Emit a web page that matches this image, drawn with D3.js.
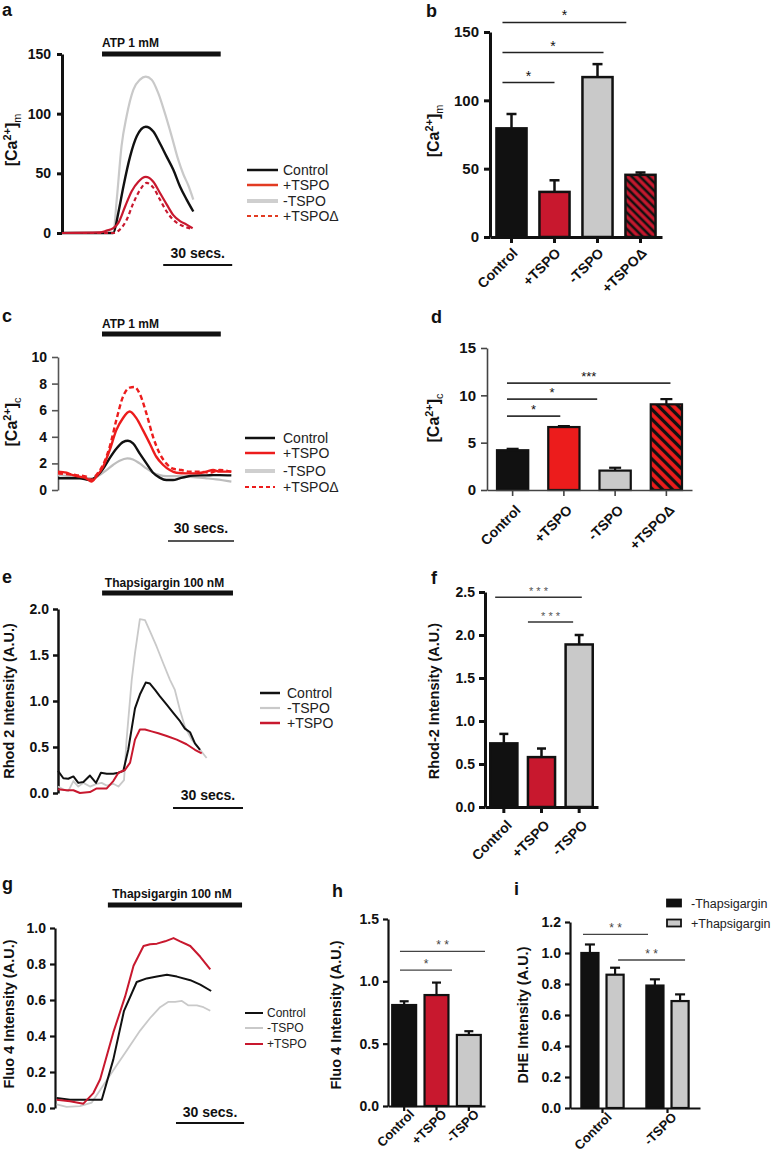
<!DOCTYPE html>
<html><head><meta charset="utf-8">
<script src="https://cdn.jsdelivr.net/npm/d3@7"></script>
<style>
html,body{margin:0;padding:0;background:#fff;}
svg{display:block;}
</style></head>
<body>
<svg id="fig" width="771" height="1155" xmlns="http://www.w3.org/2000/svg"></svg>
<script>
// ================= DATA =================
// Panel a: mitochondrial Ca2+ traces, [time (s), value]
const aControl   = [[0,0],[22.3,0],[24.5,17],[26.7,39],[29.6,64],[32.5,81],[36.4,89],[39.7,85],[42.6,75],[45.5,64],[48.4,53],[51.3,39],[54.2,28],[57.1,18]];
const aMinusTSPO = [[0,0],[22.3,0],[23.8,28],[25.9,73],[28.1,98],[31.0,120],[33.9,128.5],[36.4,131],[39.0,128.5],[41.9,117],[44.8,100],[47.7,81],[50.6,61],[52.8,49],[54.9,40],[57.1,28]];
const aPlusTSPO  = [[0,0],[16.5,0.5],[19.4,2],[22.3,4],[24.5,8.5],[27.4,22],[30.3,35],[33.2,43],[36.4,47],[39.7,43],[42.6,33.5],[45.5,24],[48.4,15],[51.3,10],[54.2,7],[56.8,4]];
const aPlusTSPOd = [[0,0],[22.3,0],[25.2,3],[28.1,11],[31.0,25],[33.9,36],[36.8,42],[39.7,38],[42.6,28],[45.5,18],[48.4,11],[51.3,7],[54.2,4.7],[56.8,3.4]];
const aTicks = [0,50,100,150];
const aStimulus = [17.4,69];
const aScaleBar = [44,74];
const aLegend = ["Control","+TSPO","-TSPO","+TSPOΔ"];

// Panel b
const bCategories = ["Control","+TSPO","-TSPO","+TSPOΔ"];
const bMeans  = [79.5,33,117,45.5];
const bErrors = [10.5,8.5,9.5,1.7];
const bTicks  = [0,50,100,150];
const bSig    = [[-0.21,1.0,113,"*"],[-0.21,2.14,135,"*"],[-0.21,2.67,157,"*"]];

// Panel c: cytosolic Ca2+ traces
const cControl   = [[0,0.88],[5.3,0.88],[9.8,0.88],[14.4,0.75],[17.4,1.0],[20.5,1.6],[23.5,2.4],[26.5,3.1],[29.5,3.6],[31.8,3.7],[34.1,3.5],[37.1,2.75],[40.2,2.0],[43.2,1.3],[46.2,0.93],[49.2,0.75],[52.3,0.75],[55.3,0.88],[58.3,1.0],[61.4,1.08],[64.4,1.1],[67.4,1.1],[70.5,1.12],[73.5,1.12],[78.8,1.1]];
const cPlusTSPO  = [[0,1.38],[3.8,1.3],[6.8,1.12],[9.8,1.0],[12.9,0.88],[15.2,0.63],[17.4,1.0],[20.5,1.75],[23.5,3.0],[26.5,4.5],[29.5,5.4],[32.6,5.9],[35.6,5.4],[38.6,4.5],[41.7,3.5],[44.7,2.5],[47.7,1.9],[50.8,1.5],[53.8,1.3],[58.3,1.25],[62.9,1.25],[67.4,1.38],[70.5,1.5],[73.5,1.38],[78.8,1.38]];
const cPlusTSPOd = [[0,1.25],[3.8,1.2],[8.3,1.12],[12.9,1.0],[15.2,0.75],[17.4,1.12],[20.5,1.9],[23.5,3.25],[26.5,5.25],[29.5,7.0],[32.6,7.7],[34.8,7.75],[37.1,7.25],[40.2,5.75],[43.2,4.0],[46.2,2.75],[49.2,2.0],[52.3,1.6],[56.1,1.5],[59.8,1.38],[64.4,1.38],[68.9,1.3],[73.5,1.5],[78.8,1.38]];
const cMinusTSPO = [[0,1.12],[5.3,1.05],[11.4,0.95],[15.9,0.88],[18.9,1.12],[22,1.5],[25,1.88],[28,2.2],[31.5,2.38],[34.1,2.3],[37.1,2.0],[40.2,1.62],[43.2,1.3],[46.2,1.12],[49.2,1.05],[53.8,1.05],[58.3,1.0],[62.9,0.95],[67.4,0.88],[72,0.8],[78.8,0.63]];
const cTicks = [0,2,4,6,8,10];
const cStimulus = [20,74];
const cScaleBar = [50,80];
const cLegend = ["Control","+TSPO","-TSPO","+TSPOΔ"];

// Panel d
const dCategories = ["Control","+TSPO","-TSPO","+TSPOΔ"];
const dMeans  = [4.2,6.65,2.05,9.05];
const dErrors = [0.15,0.1,0.3,0.55];
const dTicks  = [0,5,10,15];
const dSig    = [[-0.11,0.93,7.8,"*"],[-0.11,1.65,9.6,"*"],[-0.11,3.08,11.3,"***"]];

// Panel e: Rhod 2 traces
const eControl   = [[0,0.24],[2.3,0.16],[4.4,0.155],[6.6,0.18],[8.7,0.11],[10.9,0.12],[13.7,0.19],[16.3,0.11],[18.4,0.22],[20.9,0.21],[23.7,0.21],[25.9,0.22],[28,0.24],[30.1,0.47],[33,0.92],[35.1,1.07],[37.6,1.2],[39.4,1.19],[41.6,1.12],[43.7,1.05],[46.6,0.96],[49.4,0.87],[52.3,0.78],[54.4,0.7],[56.6,0.66],[58.7,0.54],[60.9,0.47]];
const eMinusTSPO = [[0,0.07],[2.3,0.04],[4.4,0.02],[6.6,0.13],[8.7,0.07],[10.9,0.11],[13.7,0.07],[16.6,0.1],[18.7,0.11],[20.9,0.08],[23.7,0.1],[25.9,0.07],[28.3,0.14],[29.4,0.58],[31.6,1.23],[33,1.52],[35.1,1.89],[37.3,1.88],[39.4,1.76],[42.3,1.59],[45.1,1.41],[48,1.23],[50.1,1.12],[52.3,0.9],[54.4,0.72],[57.3,0.58],[60.9,0.47],[63.7,0.38]];
const ePlusTSPO  = [[0,0.04],[3.7,0.03],[6.6,0.03],[9.4,0.0],[13.7,0.01],[16.6,0.05],[20.9,0.05],[23.7,0.13],[25.9,0.22],[28.7,0.25],[30.9,0.33],[33,0.58],[35.1,0.69],[37.3,0.69],[40.1,0.67],[43,0.65],[46.6,0.62],[50.9,0.58],[55.1,0.53],[58.7,0.47],[61.6,0.43]];
const eTicks = [0,0.5,1.0,1.5,2.0];
const eStimulus = [18.9,75];
const eScaleBar = [49.3,79.3];
const eLegend = ["Control","-TSPO","+TSPO"];

// Panel f
const fCategories = ["Control","+TSPO","-TSPO"];
const fMeans  = [0.74,0.58,1.89];
const fErrors = [0.11,0.10,0.11];
const fTicks  = [0,0.5,1.0,1.5,2.0,2.5];
const fSig    = [[-0.23,2.07,2.44,"* * *"],[0.64,1.84,2.15,"* * *"]];

// Panel g: Fluo 4 traces
const gControl   = [[0.7,0.056],[6.6,0.046],[13.2,0.046],[20.6,0.046],[25.7,0.27],[30.4,0.54],[36,0.70],[40.4,0.72],[44.9,0.73],[49.3,0.74],[53.7,0.73],[59.6,0.71],[64,0.685],[68.8,0.65]];
const gPlusTSPO  = [[0.7,0.046],[6.6,0.037],[12.5,0.024],[16.9,0.083],[19.9,0.16],[25.7,0.42],[30.9,0.62],[34.6,0.79],[39,0.90],[41.9,0.91],[44.9,0.913],[48.5,0.926],[52.2,0.944],[55.1,0.926],[59.6,0.90],[64,0.84],[68.4,0.77]];
const gMinusTSPO = [[0.7,0.02],[5.1,0.006],[11,0.01],[16.2,0.03],[19.9,0.10],[25.7,0.21],[31.6,0.32],[37.5,0.43],[41.9,0.50],[46.3,0.56],[50,0.59],[52.9,0.59],[55.9,0.595],[58.8,0.57],[62.5,0.57],[65.4,0.56],[68.4,0.54]];
const gTicks = [0,0.2,0.4,0.6,0.8,1.0];
const gStimulus = [23.3,82.4];
const gScaleBar = [53.3,83.3];
const gLegend = ["Control","-TSPO","+TSPO"];

// Panel h
const hCategories = ["Control","+TSPO","-TSPO"];
const hMeans  = [0.81,0.89,0.57];
const hErrors = [0.03,0.10,0.03];
const hTicks  = [0,0.5,1.0,1.5];
const hSig    = [[-0.13,1.48,1.09,"*"],[-0.13,2.5,1.24,"* *"]];

// Panel i
const iGroups = ["Control","-TSPO"];
const iSeries = ["-Thapsigargin","+Thapsigargin"];
const iMinusThaps = [1.0,0.79];
const iMinusErr   = [0.055,0.04];
const iPlusThaps  = [0.86,0.69];
const iPlusErr    = [0.045,0.043];
const iTicks = [0,0.2,0.4,0.6,0.8,1.0,1.2];
const iSig   = [[-0.3,0.70,1.12,"* *"],[0.24,1.27,0.955,"* *"]];

// ================= DRAWING =================
const FONT = "'Liberation Sans', Arial, Helvetica, sans-serif";
const BLACK = "#111", GRAY = "#c9c9c9", CRIMSON = "#c8182e", BRIGHT = "#ec1c1c", ORANGE = "#e23b22";
const svg = d3.select("#fig");

// hatch patterns
const defs = svg.append("defs");
function hatch(id, bg, size, w) {
  const p = defs.append("pattern").attr("id", id).attr("patternUnits","userSpaceOnUse")
    .attr("width", size).attr("height", size).attr("patternTransform","rotate(-45)");
  p.append("rect").attr("width", size).attr("height", size).attr("fill", bg);
  p.append("line").attr("x1", size/2).attr("x2", size/2).attr("y1", 0).attr("y2", size)
    .attr("stroke", "#111").attr("stroke-width", w);
}
hatch("hatchB", CRIMSON, 5.8, 2.6);
hatch("hatchD", BRIGHT, 7, 3.2);

function text(g, x, y, s, o = {}) {
  return g.append("text").attr("x", x).attr("y", y).text(s)
    .attr("font-family", FONT).attr("font-size", o.fs || 14)
    .attr("font-weight", o.bold === false ? "normal" : "bold")
    .attr("fill", o.fill || BLACK).attr("text-anchor", o.anchor || "start");
}

function styleYAxis(ax, c) {
  ax.select(".domain").attr("stroke", c.axisColor || BLACK).attr("stroke-width", c.axisW);
  ax.selectAll(".tick line").attr("stroke", c.axisColor || BLACK).attr("stroke-width", c.axisW);
  ax.selectAll(".tick text").attr("font-family", FONT).attr("font-size", c.tickFs)
    .attr("font-weight", "bold").attr("fill", BLACK).attr("letter-spacing", c.ls || 0);
}

function yLabel(g, x, y, parts, fs) {
  const t = g.append("text").attr("transform", `translate(${x},${y}) rotate(-90)`)
    .attr("text-anchor", "middle").attr("font-family", FONT).attr("font-weight", "bold")
    .attr("font-size", fs).attr("fill", BLACK);
  if (typeof parts === "string") { t.text(parts); return; }
  t.append("tspan").text("[Ca");
  t.append("tspan").attr("dy", -6).attr("font-size", fs * 0.68).text("2+");
  t.append("tspan").attr("dy", 6).text("]");
  t.append("tspan").attr("dy", 4).attr("font-size", fs * 0.68).attr("font-weight", "normal").text(parts.sub);
}

function linePanel(c) {
  const g = svg.append("g");
  const x = d3.scaleLinear().domain([0, 100]).range([c.x0, c.x0 + c.pps * 100]);
  const y = d3.scaleLinear().domain(c.yDomain).range(c.yRange);
  const ax = g.append("g").attr("transform", `translate(${c.x0},0)`)
    .call(d3.axisLeft(y).tickValues(c.ticks).tickFormat(c.fmt).tickSize(c.tickSize).tickPadding(c.tickPad).tickSizeOuter(0));
  styleYAxis(ax, c);
  const line = d3.line().x(d => x(d[0])).y(d => y(d[1])).curve(c.curve);
  c.series.forEach(s => {
    g.append("path").datum(s.data).attr("fill", "none").attr("stroke", s.color)
      .attr("stroke-width", s.w).attr("stroke-dasharray", s.dash || null)
      .attr("stroke-linejoin", "round").attr("d", line);
  });
  g.append("line").attr("x1", x(c.stim[0])).attr("x2", x(c.stim[1]))
    .attr("y1", c.stimY).attr("y2", c.stimY).attr("stroke", BLACK).attr("stroke-width", 5);
  const sx = c.stimAnchor === "start" ? x(c.stim[0]) : (x(c.stim[0]) + x(c.stim[1])) / 2 - 3;
  text(g, sx, c.stimTextY, c.stimLabel, { fs: 12, anchor: c.stimAnchor });
  g.append("line").attr("x1", x(c.scale[0])).attr("x2", x(c.scale[1]))
    .attr("y1", c.scaleY).attr("y2", c.scaleY).attr("stroke", c.scaleColor || BLACK).attr("stroke-width", 2);
  text(g, (x(c.scale[0]) + x(c.scale[1])) / 2, c.scaleTextY, "30 secs.", { fs: 14, anchor: "middle" });
  c.legend.labels.forEach((lab, i) => {
    const st = c.legend.styles[i], yy = c.legend.rows[i];
    g.append("line").attr("x1", c.legend.x1).attr("x2", c.legend.x2).attr("y1", yy).attr("y2", yy)
      .attr("stroke", st.color).attr("stroke-width", st.w).attr("stroke-dasharray", st.dash || null);
    text(g, c.legend.tx, yy + c.legend.fs * 0.36, lab, { fs: c.legend.fs, bold: false, fill: "#222" });
  });
  yLabel(g, c.ylx, c.yly, c.ylabel, c.ylFs);
  text(g, c.letter[0], c.letter[1], c.letter[2], { fs: 18 });
}

function barPanel(c) {
  const g = svg.append("g");
  const n = c.cats.length;
  const x = d3.scaleBand().domain(c.cats).range(c.xRange).paddingInner(c.pad).paddingOuter(c.pad / 2);
  const y = d3.scaleLinear().domain(c.yDomain).range(c.yRange);
  const bw = x.bandwidth();
  const idx = d3.scaleLinear().domain([0, n - 1]).range([x(c.cats[0]) + bw / 2, x(c.cats[n - 1]) + bw / 2]);
  c.cats.forEach((cat, i) => {
    const cx = x(cat) + bw / 2;
    g.append("line").attr("x1", cx).attr("x2", cx).attr("y1", y(c.means[i])).attr("y2", y(c.means[i] + c.errs[i]))
      .attr("stroke", BLACK).attr("stroke-width", c.errW);
    g.append("line").attr("x1", cx - c.capW / 2).attr("x2", cx + c.capW / 2)
      .attr("y1", y(c.means[i] + c.errs[i])).attr("y2", y(c.means[i] + c.errs[i]))
      .attr("stroke", BLACK).attr("stroke-width", c.errW);
  });
  g.selectAll(null).data(c.cats).enter().append("rect")
    .attr("x", d => x(d)).attr("width", bw)
    .attr("y", (d, i) => y(c.means[i])).attr("height", (d, i) => y(0) - y(c.means[i]))
    .attr("fill", (d, i) => c.fills[i]).attr("stroke", BLACK).attr("stroke-width", c.barStroke);
  const ay = g.append("g").attr("transform", `translate(${c.xRange[0]},0)`)
    .call(d3.axisLeft(y).tickValues(c.ticks).tickFormat(c.fmt).tickSize(c.tickSize).tickPadding(c.tickPad).tickSizeOuter(0));
  styleYAxis(ay, c);
  const axx = g.append("g").attr("transform", `translate(0,${y(0)})`)
    .call(d3.axisBottom(x).tickSize(c.tickSize).tickSizeOuter(0).tickFormat(""));
  axx.select(".domain").attr("stroke", c.axisColor || BLACK).attr("stroke-width", c.axisW);
  axx.selectAll(".tick line").attr("stroke", c.axisColor || BLACK).attr("stroke-width", c.axisW);
  c.cats.forEach(cat => {
    const cx = x(cat) + bw / 2;
    g.append("text").attr("transform", `translate(${cx + c.labDx},${y(0) + c.labDy}) rotate(-45)`)
      .attr("text-anchor", "end").attr("font-family", FONT).attr("font-weight", "bold")
      .attr("font-size", c.labFs).attr("fill", BLACK).text(cat);
  });
  c.sig.forEach(s => {
    const x1 = idx(s[0]), x2 = idx(s[1]), yy = y(s[2]);
    g.append("line").attr("x1", x1).attr("x2", x2).attr("y1", yy).attr("y2", yy)
      .attr("stroke", c.sigColor).attr("stroke-width", c.sigW);
    text(g, (x1 + x2) / 2, yy - 2, s[3], { fs: c.starFs, anchor: "middle", fill: c.starColor || BLACK, bold: false });
  });
  yLabel(g, c.ylx, c.yly, c.ylabel, c.ylFs);
  text(g, c.letter[0], c.letter[1], c.letter[2], { fs: 18 });
}

// ---- Panel a
linePanel({
  x0: 62, pps: 2.3, yDomain: [0, 150], yRange: [233, 54], ticks: aTicks, fmt: d3.format("d"),
  axisW: 3, tickSize: 5, tickPad: 6, tickFs: 14, curve: d3.curveMonotoneX,
  series: [
    { data: aMinusTSPO, color: GRAY, w: 2.2 },
    { data: aControl, color: BLACK, w: 2.4 },
    { data: aPlusTSPO, color: CRIMSON, w: 2.2 },
    { data: aPlusTSPOd, color: CRIMSON, w: 2.2, dash: "4,3" }
  ],
  stim: aStimulus, stimY: 54, stimTextY: 47, stimLabel: "ATP 1 mM", stimAnchor: "start",
  scale: aScaleBar, scaleY: 265, scaleTextY: 258,
  legend: { labels: aLegend, x1: 247, x2: 278, tx: 283, fs: 14, rows: [170, 185, 201, 216],
    styles: [{ color: BLACK, w: 2.5 }, { color: ORANGE, w: 2.5 }, { color: "#cfcfcf", w: 4 }, { color: ORANGE, w: 2, dash: "4,3" }] },
  ylx: 17, yly: 140, ylabel: { sub: "m" }, ylFs: 16, letter: [2, 16, "a"]
});

// ---- Panel b
barPanel({
  cats: bCategories, means: bMeans, errs: bErrors, fills: [BLACK, CRIMSON, GRAY, "url(#hatchB)"],
  xRange: [490, 662], pad: 0.3, yDomain: [0, 150], yRange: [237, 32], ticks: bTicks, fmt: d3.format("d"),
  axisW: 3, tickSize: 6, tickPad: 5, tickFs: 15, barStroke: 2.5, errW: 2.5, capW: 10,
  sig: bSig, sigColor: "#222", sigW: 1.5, starFs: 14,
  labDx: 7, labDy: 17, labFs: 14,
  ylx: 439, yly: 131, ylabel: { sub: "m" }, ylFs: 16, letter: [426, 17, "b"]
});

// ---- Panel c
linePanel({
  x0: 58, pps: 2.2, yDomain: [0, 10], yRange: [490, 357], ticks: cTicks, fmt: d3.format("d"),
  axisW: 1.6, axisColor: "#555", tickSize: 6, tickPad: 5, tickFs: 14, curve: d3.curveMonotoneX,
  series: [
    { data: cMinusTSPO, color: "#bdbdbd", w: 2.2 },
    { data: cControl, color: BLACK, w: 2.4 },
    { data: cPlusTSPO, color: BRIGHT, w: 2.4 },
    { data: cPlusTSPOd, color: BRIGHT, w: 2.4, dash: "5,3" }
  ],
  stim: cStimulus, stimY: 334, stimTextY: 328, stimLabel: "ATP 1 mM", stimAnchor: "start",
  scale: cScaleBar, scaleY: 541, scaleTextY: 533, scaleColor: "#555",
  legend: { labels: cLegend, x1: 245, x2: 275, tx: 283, fs: 14, rows: [438, 453, 471, 487],
    styles: [{ color: BLACK, w: 2.5 }, { color: BRIGHT, w: 2.5 }, { color: "#cfcfcf", w: 4 }, { color: BRIGHT, w: 2, dash: "4,3" }] },
  ylx: 17, yly: 422, ylabel: { sub: "c" }, ylFs: 16, letter: [2, 322, "c"]
});

// ---- Panel d
barPanel({
  cats: dCategories, means: dMeans, errs: dErrors, fills: [BLACK, BRIGHT, GRAY, "url(#hatchD)"],
  xRange: [487, 692], pad: 0.39, yDomain: [0, 15], yRange: [490, 348], ticks: dTicks, fmt: d3.format("d"),
  axisW: 1.6, axisColor: "#444", tickSize: 6, tickPad: 5, tickFs: 15, barStroke: 2.2, errW: 2.2, capW: 12,
  sig: dSig, sigColor: "#333", sigW: 1.8, starFs: 13,
  labDx: 9, labDy: 21, labFs: 14,
  ylx: 439, yly: 418, ylabel: { sub: "c" }, ylFs: 16, letter: [431, 323, "d"]
});

// ---- Panel e
linePanel({
  x0: 58, pps: 2.333, yDomain: [0, 2], yRange: [793, 609], ticks: eTicks, fmt: d3.format(".1f"),
  axisW: 2.5, tickSize: 5, tickPad: 4, tickFs: 14, curve: d3.curveLinear,
  series: [
    { data: eMinusTSPO, color: GRAY, w: 1.8 },
    { data: eControl, color: BLACK, w: 2 },
    { data: ePlusTSPO, color: CRIMSON, w: 2 }
  ],
  stim: eStimulus, stimY: 593, stimTextY: 587, stimLabel: "Thapsigargin 100 nM", stimAnchor: "middle",
  scale: eScaleBar, scaleY: 808, scaleTextY: 800,
  legend: { labels: eLegend, x1: 260, x2: 280, tx: 287, fs: 14, rows: [693, 708, 723],
    styles: [{ color: BLACK, w: 2.5 }, { color: GRAY, w: 2.2 }, { color: CRIMSON, w: 2.5 }] },
  ylx: 14, yly: 701, ylabel: "Rhod 2 Intensity (A.U.)", ylFs: 14.5, letter: [2, 583, "e"]
});

// ---- Panel f
barPanel({
  cats: fCategories, means: fMeans, errs: fErrors, fills: [BLACK, CRIMSON, GRAY],
  xRange: [485, 598], pad: 0.28, yDomain: [0, 2.5], yRange: [807, 592], ticks: fTicks, fmt: d3.format(".1f"),
  axisW: 3, tickSize: 6, tickPad: 4, tickFs: 14, barStroke: 2.5, errW: 2.5, capW: 9,
  sig: fSig, sigColor: "#333", sigW: 1.5, starFs: 11, starColor: "#555",
  labDx: 9, labDy: 19, labFs: 14,
  ylx: 439, yly: 701, ylabel: "Rhod-2 Intensity (A.U.)", ylFs: 14.5, letter: [431, 584, "f"]
});

// ---- Panel g
linePanel({
  x0: 55, pps: 2.27, yDomain: [0, 1], yRange: [1108, 928], ticks: gTicks, fmt: d3.format(".1f"),
  axisW: 2.2, tickSize: 5, tickPad: 4, tickFs: 14, curve: d3.curveLinear,
  series: [
    { data: gMinusTSPO, color: GRAY, w: 1.8 },
    { data: gControl, color: BLACK, w: 2 },
    { data: gPlusTSPO, color: CRIMSON, w: 2 }
  ],
  stim: gStimulus, stimY: 905, stimTextY: 898, stimLabel: "Thapsigargin 100 nM", stimAnchor: "middle",
  scale: gScaleBar, scaleY: 1123, scaleTextY: 1117,
  legend: { labels: gLegend, x1: 245, x2: 263, tx: 267, fs: 12, rows: [1013, 1028, 1044],
    styles: [{ color: BLACK, w: 2 }, { color: GRAY, w: 2 }, { color: CRIMSON, w: 2 }] },
  ylx: 14, yly: 1014, ylabel: "Fluo 4 Intensity (A.U.)", ylFs: 14.5, letter: [2, 890, "g"]
});

// ---- Panel h
barPanel({
  cats: hCategories, means: hMeans, errs: hErrors, fills: [BLACK, CRIMSON, GRAY],
  xRange: [388, 485], pad: 0.26, yDomain: [0, 1.5], yRange: [1106, 919], ticks: hTicks, fmt: d3.format(".1f"),
  axisW: 2.2, tickSize: 5, tickPad: 4, tickFs: 14, barStroke: 2.2, errW: 2.2, capW: 9,
  sig: hSig, sigColor: "#444", sigW: 1.4, starFs: 12, starColor: "#444",
  labDx: 11, labDy: 9, labFs: 13,
  ylx: 341, yly: 1015, ylabel: "Fluo 4  Intensity (A.U.)", ylFs: 14.5, letter: [332, 897, "h"]
});

// ---- Panel i (grouped)
(function () {
  const g = svg.append("g");
  const x0 = d3.scaleBand().domain(iGroups).range([570, 700]).paddingInner(0.35).paddingOuter(0.175);
  const x1 = d3.scaleBand().domain(iSeries).range([0, x0.bandwidth()]).paddingInner(0.32);
  const y = d3.scaleLinear().domain([0, 1.2]).range([1108, 922]);
  const vals = [iMinusThaps, iPlusThaps], errs = [iMinusErr, iPlusErr], fills = [BLACK, GRAY];
  const gc = d3.scaleLinear().domain([0, 1]).range([x0(iGroups[0]) + x0.bandwidth() / 2, x0(iGroups[1]) + x0.bandwidth() / 2]);
  iSeries.forEach((s, si) => {
    iGroups.forEach((grp, gi) => {
      const bx = x0(grp) + x1(s), cx = bx + x1.bandwidth() / 2;
      const v = vals[si][gi], e = errs[si][gi];
      g.append("line").attr("x1", cx).attr("x2", cx).attr("y1", y(v)).attr("y2", y(v + e)).attr("stroke", BLACK).attr("stroke-width", 2.2);
      g.append("line").attr("x1", cx - 5).attr("x2", cx + 5).attr("y1", y(v + e)).attr("y2", y(v + e)).attr("stroke", BLACK).attr("stroke-width", 2.2);
      g.append("rect").attr("x", bx).attr("width", x1.bandwidth()).attr("y", y(v)).attr("height", y(0) - y(v))
        .attr("fill", fills[si]).attr("stroke", BLACK).attr("stroke-width", 2.2);
    });
  });
  const ay = g.append("g").attr("transform", "translate(570,0)")
    .call(d3.axisLeft(y).tickValues(iTicks).tickFormat(d3.format(".1f")).tickSize(5).tickPadding(4).tickSizeOuter(0));
  styleYAxis(ay, { axisW: 2.2, tickFs: 14 });
  const axx = g.append("g").attr("transform", `translate(0,${y(0)})`)
    .call(d3.axisBottom(x0).tickSize(5).tickSizeOuter(0).tickFormat(""));
  axx.select(".domain").attr("stroke", BLACK).attr("stroke-width", 2.2);
  axx.selectAll(".tick line").attr("stroke", BLACK).attr("stroke-width", 2.2);
  iGroups.forEach(grp => {
    const cx = x0(grp) + x0.bandwidth() / 2;
    g.append("text").attr("transform", `translate(${cx + 10},${y(0) + 10}) rotate(-45)`)
      .attr("text-anchor", "end").attr("font-family", FONT).attr("font-weight", "bold")
      .attr("font-size", 13).attr("fill", BLACK).text(grp);
  });
  iSig.forEach(s => {
    const a = gc(s[0]), b = gc(s[1]), yy = y(s[2]);
    g.append("line").attr("x1", a).attr("x2", b).attr("y1", yy).attr("y2", yy).attr("stroke", "#444").attr("stroke-width", 1.4);
    text(g, (a + b) / 2, yy - 2, s[3], { fs: 12, anchor: "middle", fill: "#444", bold: false });
  });
  const legRows = [903, 923];
  iSeries.forEach((s, si) => {
    g.append("rect").attr("x", 667).attr("y", legRows[si] - 3.5).attr("width", 14).attr("height", 7)
      .attr("fill", fills[si]).attr("stroke", BLACK).attr("stroke-width", 1.8);
    text(g, 691, legRows[si] + 4.5, s, { fs: 12.5, bold: false, fill: "#222" });
  });
  yLabel(g, 528, 1015, "DHE Intensity (A.U.)", 14.5);
  text(g, 514, 895, "i", { fs: 18 });
})();
</script>
</body></html>
